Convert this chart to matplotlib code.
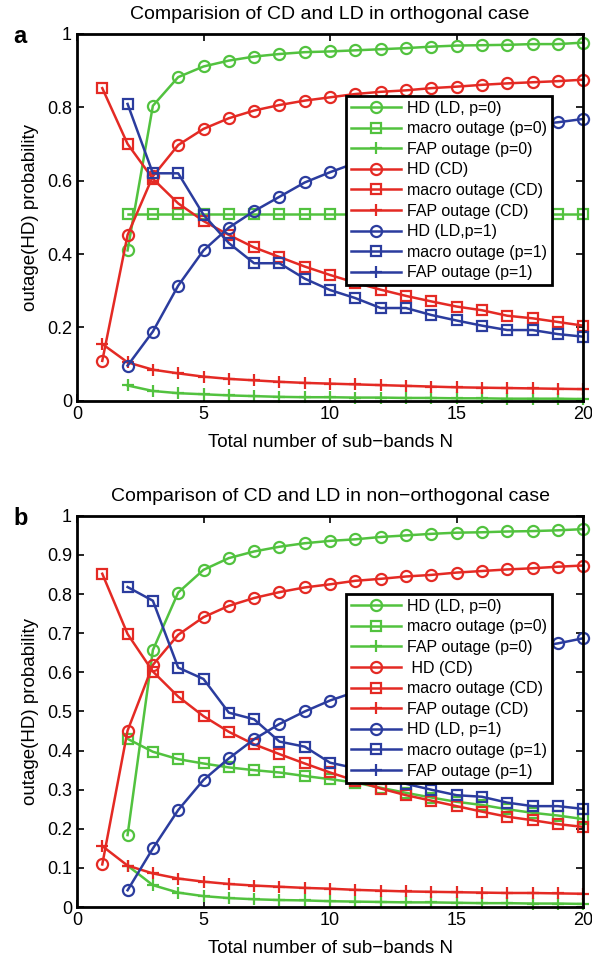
import numpy as np
import matplotlib
matplotlib.use('Agg')
import matplotlib.pyplot as plt

plt.rcParams['font.family'] = ['Liberation Sans', 'DejaVu Sans']

GREEN = '#52c23f'
RED = '#e42a24'
BLUE = '#2b3c9e'

N1 = np.arange(1, 21)
N2 = np.arange(2, 21)

# ---- panel a: orthogonal case ----
a_hd_ld0 = [0.41, 0.804, 0.882, 0.911, 0.927, 0.938, 0.945, 0.950, 0.952, 0.955,
            0.958, 0.961, 0.965, 0.968, 0.969, 0.970, 0.972, 0.972, 0.976]
a_macro0 = [0.51] * 19
a_fap0 = [0.042, 0.027, 0.021, 0.018, 0.015, 0.013, 0.011, 0.010, 0.010, 0.009,
          0.009, 0.008, 0.008, 0.007, 0.007, 0.006, 0.006, 0.006, 0.005]
a_hd_cd = [0.109, 0.452, 0.612, 0.697, 0.741, 0.770, 0.791, 0.806, 0.818, 0.827,
           0.836, 0.842, 0.846, 0.852, 0.856, 0.861, 0.865, 0.868, 0.871, 0.875]
a_macro_cd = [0.852, 0.700, 0.605, 0.538, 0.490, 0.452, 0.418, 0.392, 0.366, 0.343,
              0.322, 0.303, 0.286, 0.271, 0.257, 0.247, 0.232, 0.225, 0.215, 0.205]
a_fap_cd = [0.155, 0.105, 0.085, 0.075, 0.066, 0.060, 0.056, 0.052, 0.049, 0.047,
            0.045, 0.043, 0.041, 0.039, 0.037, 0.036, 0.035, 0.034, 0.033, 0.032]
a_hd_ld1 = [0.096, 0.189, 0.314, 0.410, 0.472, 0.517, 0.556, 0.595, 0.623, 0.648,
            0.670, 0.690, 0.705, 0.720, 0.733, 0.743, 0.752, 0.759, 0.768]
a_macro1 = [0.809, 0.620, 0.620, 0.507, 0.430, 0.375, 0.375, 0.333, 0.302, 0.280,
            0.253, 0.253, 0.234, 0.219, 0.205, 0.193, 0.193, 0.182, 0.175]
a_fap1 = [np.nan] * 19

# ---- panel b: non-orthogonal case ----
b_hd_ld0 = [0.184, 0.657, 0.804, 0.862, 0.892, 0.909, 0.921, 0.930, 0.936, 0.940,
            0.946, 0.950, 0.954, 0.957, 0.958, 0.960, 0.961, 0.963, 0.966]
b_macro0 = [0.430, 0.397, 0.378, 0.367, 0.357, 0.350, 0.344, 0.335, 0.327, 0.318,
            0.305, 0.292, 0.280, 0.269, 0.261, 0.250, 0.241, 0.234, 0.225]
b_fap0 = [0.106, 0.056, 0.037, 0.028, 0.023, 0.020, 0.018, 0.017, 0.015, 0.014,
          0.013, 0.012, 0.012, 0.011, 0.010, 0.010, 0.009, 0.009, 0.008]
b_hd_cd = [0.109, 0.451, 0.619, 0.696, 0.741, 0.770, 0.790, 0.805, 0.817, 0.825,
           0.834, 0.839, 0.845, 0.849, 0.855, 0.859, 0.863, 0.866, 0.870, 0.873]
b_macro_cd = [0.852, 0.698, 0.602, 0.538, 0.488, 0.448, 0.416, 0.391, 0.367, 0.344,
              0.323, 0.303, 0.286, 0.272, 0.258, 0.244, 0.231, 0.222, 0.212, 0.205]
b_fap_cd = [0.156, 0.106, 0.086, 0.073, 0.065, 0.059, 0.055, 0.052, 0.049, 0.047,
            0.044, 0.042, 0.040, 0.039, 0.038, 0.037, 0.036, 0.036, 0.035, 0.034]
b_hd_ld1 = [0.043, 0.150, 0.248, 0.325, 0.380, 0.429, 0.468, 0.500, 0.528, 0.550,
            0.570, 0.590, 0.610, 0.625, 0.640, 0.652, 0.664, 0.674, 0.687]
b_macro1 = [0.818, 0.783, 0.612, 0.583, 0.497, 0.480, 0.423, 0.410, 0.369, 0.355,
            0.335, 0.315, 0.300, 0.286, 0.282, 0.267, 0.258, 0.258, 0.251]
b_fap1 = [np.nan] * 19

labels_a = ['HD (LD, p=0)', 'macro outage (p=0)', 'FAP outage (p=0)',
            'HD (CD)', 'macro outage (CD)', 'FAP outage (CD)',
            'HD (LD,p=1)', 'macro outage (p=1)', 'FAP outage (p=1)']
labels_b = ['HD (LD, p=0)', 'macro outage (p=0)', 'FAP outage (p=0)',
            ' HD (CD)', 'macro outage (CD)', 'FAP outage (CD)',
            'HD (LD, p=1)', 'macro outage (p=1)', 'FAP outage (p=1)']


def draw(ax, series, labels, legend_top):
    styles = [(GREEN, 'o'), (GREEN, 's'), (GREEN, '+'),
              (RED, 'o'), (RED, 's'), (RED, '+'),
              (BLUE, 'o'), (BLUE, 's'), (BLUE, '+')]
    for (x, y), (c, m), lab in zip(series, styles, labels):
        ms = {'o': 8, 's': 7, '+': 9}[m]
        ax.plot(x, y, color=c, marker=m, markersize=ms, markerfacecolor='none',
                markeredgewidth=1.6, linewidth=1.8, label=lab, clip_on=False)
    ax.set_xlim(0, 20)
    ax.set_ylim(0, 1)
    ax.set_xticks([0, 5, 10, 15, 20])
    ax.tick_params(direction='in', top=True, right=True, labelsize=13,
                   length=5, width=1.2)
    for s in ax.spines.values():
        s.set_linewidth(2)
    ax.set_xlabel('Total number of sub\u2212bands N', fontsize=13.5, labelpad=8)
    ax.set_ylabel('outage(HD) probability', fontsize=13.5, labelpad=6)
    leg = ax.legend(loc='upper left', bbox_to_anchor=(0.532, legend_top),
                    fontsize=11.5, handlelength=3.1, fancybox=False,
                    framealpha=1, edgecolor='black', borderpad=0.3,
                    labelspacing=0.35, handletextpad=0.4, borderaxespad=0)
    leg.get_frame().set_linewidth(2)


fig = plt.figure(figsize=(5.92, 9.66), dpi=100)
ax1 = fig.add_axes([0.130, 0.585, 0.855, 0.380])
ax2 = fig.add_axes([0.130, 0.061, 0.855, 0.405])

draw(ax1, [(N2, a_hd_ld0), (N2, a_macro0), (N2, a_fap0),
           (N1, a_hd_cd), (N1, a_macro_cd), (N1, a_fap_cd),
           (N2, a_hd_ld1), (N2, a_macro1), (N2, a_fap1)], labels_a, 0.831)
ax1.set_yticks([0, 0.2, 0.4, 0.6, 0.8, 1])
ax1.set_yticklabels(['0', '0.2', '0.4', '0.6', '0.8', '1'])
ax1.set_title('Comparision of CD and LD in orthogonal case', fontsize=14, pad=11)

draw(ax2, [(N2, b_hd_ld0), (N2, b_macro0), (N2, b_fap0),
           (N1, b_hd_cd), (N1, b_macro_cd), (N1, b_fap_cd),
           (N2, b_hd_ld1), (N2, b_macro1), (N2, b_fap1)], labels_b, 0.80)
yt = np.round(np.arange(0, 1.01, 0.1), 1)
ax2.set_yticks(yt)
ax2.set_yticklabels(['0'] + ['%.1f' % v for v in yt[1:-1]] + ['1'])
ax2.set_title('Comparison of CD and LD in non\u2212orthogonal case', fontsize=14, pad=11)

fig.text(0.022, 0.962, 'a', fontsize=17, fontweight='bold', va='center')
fig.text(0.022, 0.463, 'b', fontsize=17, fontweight='bold', va='center')

fig.savefig('out.png', dpi=100)
